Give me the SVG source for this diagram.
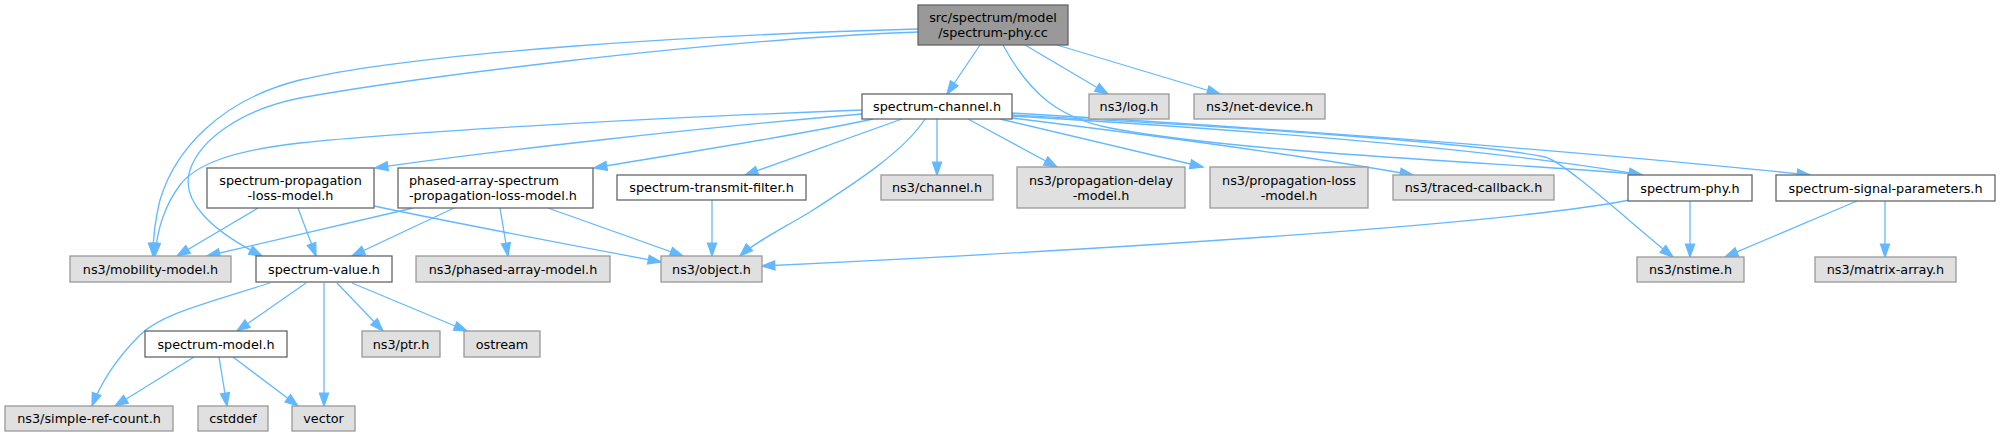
<svg xmlns="http://www.w3.org/2000/svg" width="2000" height="437" viewBox="0 0 2000 437">
<style>
.n rect{stroke-width:1.3}
.w rect{fill:#ffffff;stroke:#666666}
.g rect{fill:#e0e0e0;stroke:#999999}
.m rect{fill:#999999;stroke:#666666}
text{font-family:"DejaVu Sans","Liberation Sans",sans-serif;font-size:12.8px;fill:#000000;text-anchor:middle}
.e path{fill:none;stroke:#63b8ff;stroke-width:1.3;marker-end:url(#arr)}
</style>
<defs>
<marker id="arr" markerUnits="userSpaceOnUse" markerWidth="16" markerHeight="12" refX="12.8" refY="4.5" orient="auto" overflow="visible">
<path d="M0,0 L12.8,4.5 L0,9 z" fill="#63b8ff" stroke="#63b8ff" stroke-width="1.3"/>
</marker>
</defs>
<rect width="2000" height="437" fill="#ffffff"/>
<g class="e" id="edges">
<path d="M980,45 L947,94"/>
<path d="M1025,45 L1108,94"/>
<path d="M1057,45 L1220,94"/>
<path d="M918,29 C700,35 420,52 300,80 C220,100 175,150 160,200 C155,220 153,240 153,256"/>
<path d="M918,32 C700,40 400,80 300,98 C240,110 200,140 190,170 C180,200 210,230 262,256"/>
<path d="M1003,45 C1030,95 1060,118 1110,128 C1250,155 1560,165 1642,175"/>
<path d="M862,110 C700,116 420,130 300,143 C230,151 195,165 180,185 C165,205 157,230 155,256"/>
<path d="M862,114 C700,128 500,150 375,168"/>
<path d="M873,119 C800,135 700,150 594,168"/>
<path d="M902,119 L745,175"/>
<path d="M925,119 C905,150 860,180 810,212 C780,230 755,242 740,256"/>
<path d="M937,119 L937,175"/>
<path d="M968,119 L1057,167"/>
<path d="M1000,119 L1203,167"/>
<path d="M1012,113 C1200,124 1500,143 1810,175"/>
<path d="M1012,115 C1250,128 1470,142 1545,157 C1565,162 1633,225 1673,257"/>
<path d="M1012,116 C1250,130 1500,150 1642,175"/>
<path d="M1012,118 C1150,135 1300,155 1413,175"/>
<path d="M1857,201 L1725,257"/>
<path d="M1885,201 L1885,257"/>
<path d="M1690,201 L1690,257"/>
<path d="M1630,200 C1500,225 1100,250 762,266"/>
<path d="M712,200 L712,256"/>
<path d="M374,206 C450,222 560,243 661,262"/>
<path d="M548,208 L683,256"/>
<path d="M500,208 L508,256"/>
<path d="M454,208 L352,256"/>
<path d="M413,208 L207,256"/>
<path d="M258,208 L177,256"/>
<path d="M298,208 L316,256"/>
<path d="M270,283 C200,305 160,315 140,335 C115,360 100,385 92,406"/>
<path d="M306,283 L237,331"/>
<path d="M324,283 L324,406"/>
<path d="M337,283 L383,331"/>
<path d="M352,283 L467,331"/>
<path d="M194,357 L115,406"/>
<path d="M219,357 L227,406"/>
<path d="M233,357 L298,406"/>
</g>
<g id="main" class="n m"><rect x="918" y="5" width="150" height="40"/><text x="993" y="22">src/spectrum/model</text><text x="993" y="37">/spectrum-phy.cc</text></g>
<g id="spectrum-channel" class="n w"><rect x="862" y="94" width="150" height="25"/><text x="937" y="111">spectrum-channel.h</text></g>
<g id="log" class="n g"><rect x="1089" y="94" width="80" height="25"/><text x="1129" y="111">ns3/log.h</text></g>
<g id="net-device" class="n g"><rect x="1194" y="94" width="131" height="25"/><text x="1259.5" y="111">ns3/net-device.h</text></g>
<g id="spectrum-propagation-loss-model" class="n w"><rect x="207" y="168" width="167" height="40"/><text x="290.5" y="184.5">spectrum-propagation</text><text x="290.5" y="199.5">-loss-model.h</text></g>
<g id="phased-array-spectrum-propagation-loss-model" class="n w"><rect x="398" y="168" width="195" height="40"/><text x="409" y="184.5" style="text-anchor:start">phased-array-spectrum</text><text x="409" y="199.5" style="text-anchor:start">-propagation-loss-model.h</text></g>
<g id="spectrum-transmit-filter" class="n w"><rect x="617" y="175" width="189" height="25"/><text x="711.5" y="192">spectrum-transmit-filter.h</text></g>
<g id="channel" class="n g"><rect x="881" y="175" width="112" height="25"/><text x="937" y="192">ns3/channel.h</text></g>
<g id="propagation-delay-model" class="n g"><rect x="1017" y="167" width="168" height="41"/><text x="1101" y="184.5">ns3/propagation-delay</text><text x="1101" y="199.5">-model.h</text></g>
<g id="propagation-loss-model" class="n g"><rect x="1210" y="167" width="158" height="41"/><text x="1289" y="184.5">ns3/propagation-loss</text><text x="1289" y="199.5">-model.h</text></g>
<g id="traced-callback" class="n g"><rect x="1393" y="175" width="161" height="25"/><text x="1473.5" y="192">ns3/traced-callback.h</text></g>
<g id="spectrum-phy" class="n w"><rect x="1628" y="175" width="124" height="26"/><text x="1690" y="192.5">spectrum-phy.h</text></g>
<g id="spectrum-signal-parameters" class="n w"><rect x="1776" y="175" width="219" height="26"/><text x="1885.5" y="192.5">spectrum-signal-parameters.h</text></g>
<g id="mobility-model" class="n g"><rect x="70" y="256" width="161" height="26"/><text x="150.5" y="273.5">ns3/mobility-model.h</text></g>
<g id="spectrum-value" class="n w"><rect x="256" y="256" width="136" height="26"/><text x="324" y="273.5">spectrum-value.h</text></g>
<g id="phased-array-model" class="n g"><rect x="416" y="256" width="194" height="26"/><text x="513" y="273.5">ns3/phased-array-model.h</text></g>
<g id="object" class="n g"><rect x="661" y="256" width="101" height="26"/><text x="711.5" y="273.5">ns3/object.h</text></g>
<g id="nstime" class="n g"><rect x="1637" y="257" width="107" height="25"/><text x="1690.5" y="274">ns3/nstime.h</text></g>
<g id="matrix-array" class="n g"><rect x="1815" y="257" width="141" height="25"/><text x="1885.5" y="274">ns3/matrix-array.h</text></g>
<g id="spectrum-model" class="n w"><rect x="145" y="331" width="142" height="26"/><text x="216" y="348.5">spectrum-model.h</text></g>
<g id="ptr" class="n g"><rect x="362" y="331" width="78" height="26"/><text x="401" y="348.5">ns3/ptr.h</text></g>
<g id="ostream" class="n g"><rect x="464" y="331" width="76" height="26"/><text x="502" y="348.5">ostream</text></g>
<g id="simple-ref-count" class="n g"><rect x="5" y="406" width="168" height="25"/><text x="89" y="423">ns3/simple-ref-count.h</text></g>
<g id="cstddef" class="n g"><rect x="198" y="406" width="70" height="25"/><text x="233" y="423">cstddef</text></g>
<g id="vector" class="n g"><rect x="292" y="406" width="63" height="25"/><text x="323.5" y="423">vector</text></g>
</svg>
